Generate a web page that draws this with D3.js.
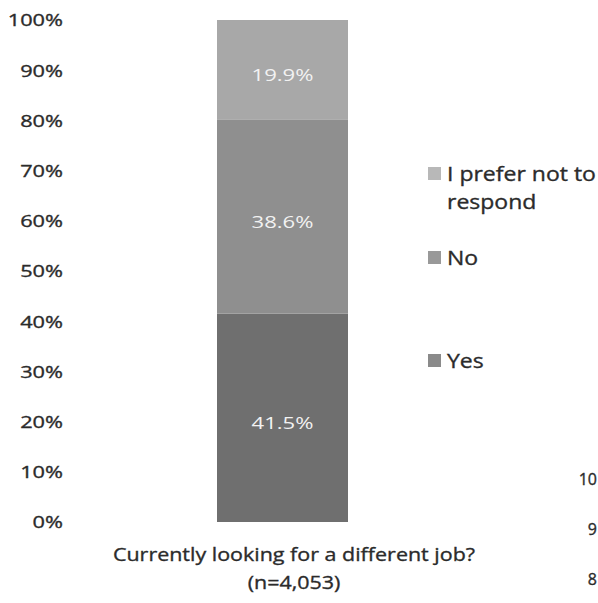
<!DOCTYPE html>
<html><head><meta charset="utf-8">
<script src="https://cdn.jsdelivr.net/npm/d3@7"></script>
<style>body{margin:0;background:#fff}svg{display:block}text{font-family:"Open Sans",sans-serif}</style>
</head><body><svg id="c" width="598" height="603"></svg>
<script>
const categories = ["Currently looking for a different job?"];
const subtitle = "(n=4,053)";
const seriesNames = ["Yes", "No", "I prefer not to respond"];
const seriesValues = [41.5, 38.6, 19.9];
const seriesColors = ["#6f6f6f", "#8f8f8f", "#a8a8a8"];
const legendColors = ["#8a8a8a", "#999999", "#b8b8b8"];
const tickValues = [0,10,20,30,40,50,60,70,80,90,100];
const strayLabels = ["10", "9", "8"]; // clipped tick labels of a neighbouring chart

const svg = d3.select("#c");
const y = d3.scaleLinear().domain([0,100]).range([522,20]);
const x = d3.scaleBand().domain(categories).range([217,348]).padding(0);
const ink = "#2b2b2b";

function put(sel, tx, ty, sx){ return sel.attr("transform",`translate(${tx},${ty}) scale(${sx},1)`); }

// y axis labels
const yAxis = d3.axisLeft(y).tickValues(tickValues).tickFormat(d=>d+"%").tickSize(0).tickPadding(0);
const ga = svg.append("g").attr("transform","translate(63,0)").call(yAxis);
ga.select(".domain").remove();
ga.selectAll(".tick text").attr("x",0).attr("dy","0.35em").attr("transform","scale(1.28,1)")
  .attr("font-size",17).attr("font-weight",400).attr("fill",ink).attr("stroke",ink).attr("stroke-width",0.35).attr("font-family","Open Sans");

// stacked bar
let cum = 0;
const stack = seriesValues.map((v,i)=>{const d={name:seriesNames[i],y0:cum,y1:cum+v,v,c:seriesColors[i]};cum+=v;return d;});
const cat = categories[0];
svg.selectAll("rect.seg").data(stack).join("rect").attr("class","seg")
  .attr("x",x(cat)).attr("width",x.bandwidth())
  .attr("y",d=>y(d.y1)).attr("height",d=>y(d.y0)-y(d.y1)).attr("fill",d=>d.c);

svg.selectAll("text.lbl").data(stack).join("text").attr("class","lbl")
  .each(function(d){ put(d3.select(this), x(cat)+x.bandwidth()/2, y((d.y0+d.y1)/2)+5, 1.3); })
  .attr("text-anchor","middle").attr("dy","0.35em").attr("font-size",17).attr("fill","#f2f2f2")
  .text(d=>d.v.toFixed(1)+"%");

// category title
const tstyle = s => s.attr("text-anchor","middle").attr("font-size",19).attr("fill",ink).attr("stroke",ink).attr("stroke-width",0.35);
tstyle(put(svg.append("text"),294,561,1.13)).text(categories[0]);
tstyle(put(svg.append("text"),294,589,1.13)).text(subtitle);

// legend
const legend = [
  {name:"I prefer not to", name2:"respond", y:174, c:legendColors[2]},
  {name:"No", y:258, c:legendColors[1]},
  {name:"Yes", y:361, c:legendColors[0]}
];
const lg = svg.selectAll("g.leg").data(legend).join("g").attr("class","leg").attr("transform",d=>`translate(428,${d.y})`);
lg.append("rect").attr("x",0).attr("y",-7).attr("width",13).attr("height",13).attr("fill",d=>d.c);
const lstyle = s => s.attr("dy","0.35em").attr("font-size",20).attr("fill",ink).attr("stroke",ink).attr("stroke-width",0.35);
lstyle(lg.append("text").attr("transform","translate(19,0) scale(1.15,1)")).text(d=>d.name);
lstyle(lg.filter(d=>d.name2).append("text").attr("transform","translate(19,28) scale(1.15,1)")).text(d=>d.name2);

// neighbouring chart's axis fragments at the right edge
const y2 = d3.scaleBand().domain(strayLabels).range([454,604]);
svg.selectAll("text.stray").data(strayLabels).join("text").attr("class","stray")
  .attr("x",597).attr("y",d=>y2(d)+y2.bandwidth()/2).attr("dy","0.35em").attr("text-anchor","end")
  .attr("font-size",16).attr("fill",ink).attr("stroke",ink).attr("stroke-width",0.35).text(d=>d);
</script></body></html>
